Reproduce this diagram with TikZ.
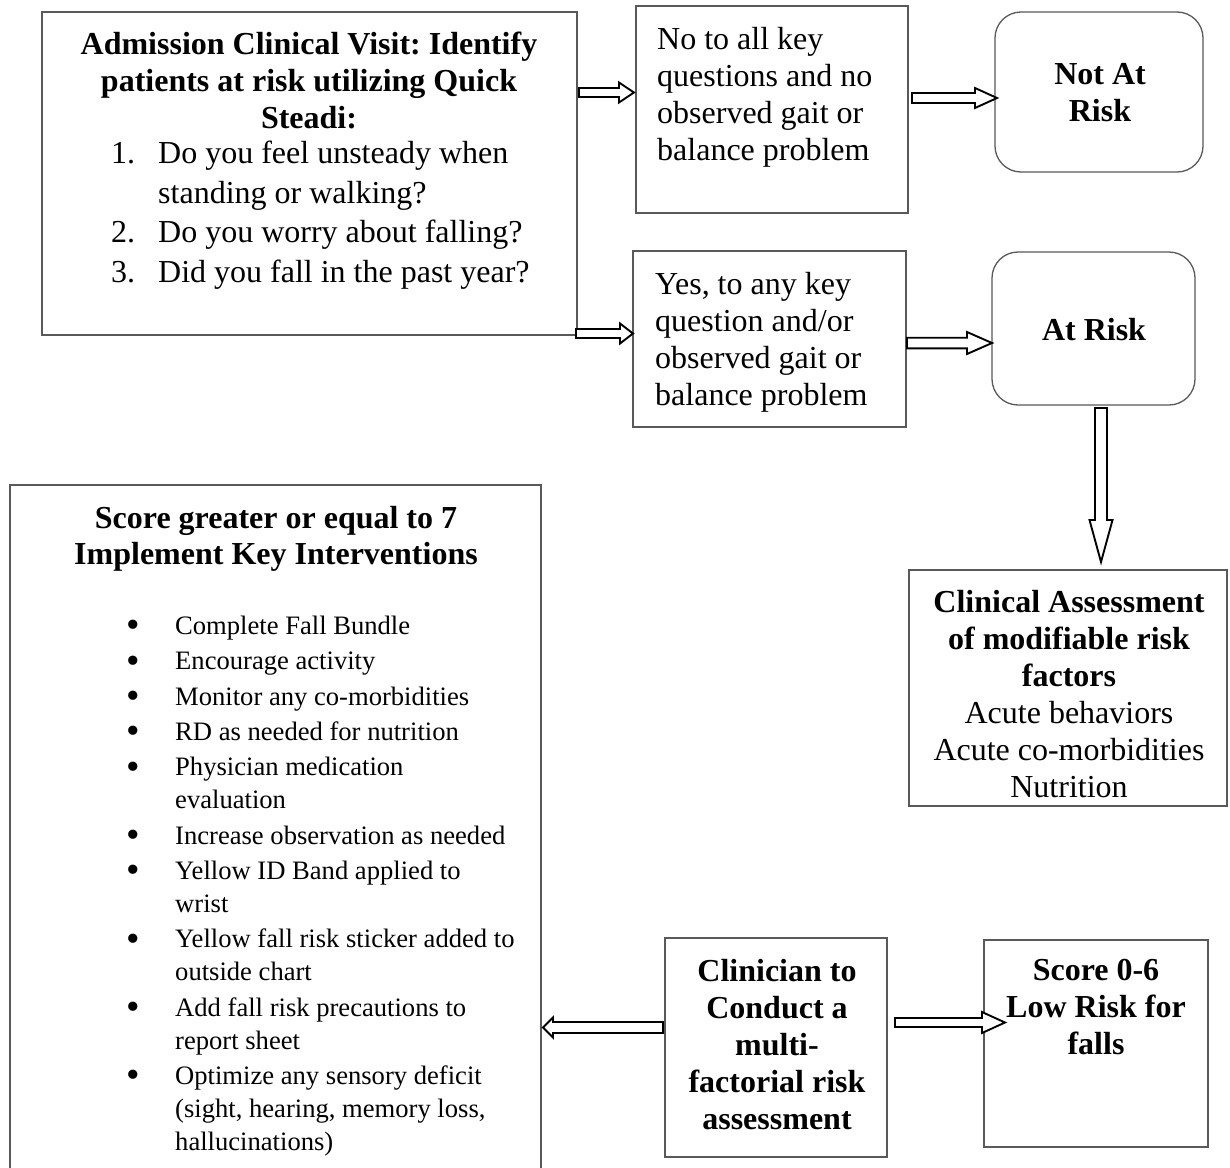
\documentclass[tikz,border=0pt]{standalone}
\usepackage{fontspec}
\setmainfont{Liberation Serif}
\frenchspacing
\usetikzlibrary{calc}
\tikzset{
  box/.style={draw=black!65, line width=1.3pt, inner sep=0pt},
  rbox/.style={box, rounded corners=26pt},
  txt/.style={inner sep=0pt, font=\fontsize{32}{37}\selectfont},
  btxt/.style={inner sep=0pt, font=\fontsize{32}{37}\selectfont\bfseries},
  smalltxt/.style={inner sep=0pt, font=\fontsize{26.6}{33}\selectfont},
  blockarr/.style={draw=black, line width=1.9pt, fill=white, line join=miter},
}
% #1 start, #2 end, #3 shaft half width, #4 head half width, #5 head length
\newcommand\blockarrow[5]{%
  \path ($(#2)!#5!(#1)$) coordinate (ba);
  \draw[blockarr] ($(#1)!#3!90:(#2)$) -- ($(ba)!#3!90:(#2)$) -- ($(ba)!#4!90:(#2)$)
    -- (#2) -- ($(ba)!#4!-90:(#2)$) -- ($(ba)!#3!-90:(#2)$) -- ($(#1)!#3!-90:(#2)$) -- cycle;}
\newcommand\bitem{\makebox[47pt][l]{\hspace*{-1.5pt}\raisebox{-3.3pt}{\scalebox{1.45}{\textbullet}}}}
\newcommand\bcont{\hspace*{47pt}}
\newcommand\nitem[1]{\makebox[47pt][l]{#1}}

\begin{document}
\begin{tikzpicture}[x=1pt,y=-1pt]
\useasboundingbox (0,0) rectangle (1230,1167);
\fill[white] (0,0) rectangle (1230,1167);

% Admission box
\node[box, minimum width=535pt, minimum height=323pt] (adm) at (309.5,173.5) {};
\node[btxt, align=center, anchor=north] (admT) at (309,32)
  {Admission Clinical Visit: Identify\\patients at risk utilizing Quick\\Steadi:};
\node[txt, align=left, anchor=north west, font=\fontsize{32}{39.5}\selectfont] (admL) at (111,141)
  {\nitem{1.}Do you feel unsteady when\\\bcont standing or walking?\\\nitem{2.}Do you worry about falling?\\\nitem{3.}Did you fall in the past year?};

% No box
\node[box, minimum width=272pt, minimum height=207pt] (no) at (772,109.5) {};
\node[txt, align=left, anchor=north west] (noT) at (657,27)
  {No to all key\\questions and no\\observed gait or\\balance problem};

% Not at risk
\node[rbox, minimum width=208pt, minimum height=160pt] (nar) at (1099,92) {};
\node[btxt, align=center] (narT) at (1100,92.5) {Not At\\Risk};

% Yes box
\node[box, minimum width=273pt, minimum height=176pt] (yes) at (769.5,339) {};
\node[txt, align=left, anchor=north west] (yesT) at (655,272)
  {Yes, to any key\\question and/or\\observed gait or\\balance problem};

% At risk
\node[rbox, minimum width=203pt, minimum height=153pt] (ar) at (1093.5,328.5) {};
\node[btxt] (arT) at (1094,329.6) {At Risk};

% Clinical assessment
\node[box, minimum width=318pt, minimum height=236pt] (ca) at (1068,688) {};
\node[txt, align=center, anchor=north] (caT) at (1069,590)
  {\bfseries Clinical Assessment\\\bfseries of modifiable risk\\\bfseries factors\\Acute behaviors\\Acute co-morbidities\\Nutrition};

% Interventions box
\node[box, minimum width=531pt, minimum height=690pt] (int) at (275.5,830) {};
\node[btxt, align=center, anchor=north, font=\fontsize{32}{36}\selectfont\bfseries] (intT) at (276,506)
  {Score greater or equal to 7\\Implement Key Interventions};
\node[smalltxt, align=left, anchor=north west] (intL) at (128,616)
  {\bitem Complete Fall Bundle\\[2.3pt]
   \bitem Encourage activity\\[2.3pt]
   \bitem Monitor any co-morbidities\\[2.3pt]
   \bitem RD as needed for nutrition\\[2.3pt]
   \bitem Physician medication\\
   \bcont evaluation\\[2.3pt]
   \bitem Increase observation as needed\\[2.3pt]
   \bitem Yellow ID Band applied to\\
   \bcont wrist\\[2.3pt]
   \bitem Yellow fall risk sticker added to\\
   \bcont outside chart\\[2.3pt]
   \bitem Add fall risk precautions to\\
   \bcont report sheet\\[2.3pt]
   \bitem Optimize any sensory deficit\\
   \bcont (sight, hearing, memory loss,\\
   \bcont hallucinations)};

% Clinician box
\node[box, minimum width=222pt, minimum height=219pt] (cl) at (776,1047.5) {};
\node[btxt, align=center, anchor=north] (clT) at (777,959)
  {Clinician to\\Conduct a\\multi-\\factorial risk\\assessment};

% Low risk box
\node[box, minimum width=224pt, minimum height=207pt] (low) at (1096,1043.5) {};
\node[btxt, align=center, anchor=north] (lowT) at (1096,959)
  {Score 0-6\\Low Risk for\\falls};

% arrow end points
\coordinate (a1s) at (579,92.5);   \coordinate (a1e) at (634,92.5);
\coordinate (a2s) at (912,98);     \coordinate (a2e) at (997,98);
\coordinate (a3s) at (576,333.5);  \coordinate (a3e) at (633,333.5);
\coordinate (a4s) at (907,343);    \coordinate (a4e) at (992,343);
\coordinate (a5s) at (1101,408);   \coordinate (a5e) at (1101,562);
\coordinate (a6s) at (663,1027.5); \coordinate (a6e) at (543,1027.5);
\coordinate (a7s) at (895,1022.5); \coordinate (a7e) at (1005,1022.5);

\blockarrow{a1s}{a1e}{4.5pt}{10pt}{15pt}
\blockarrow{a2s}{a2e}{5pt}{10pt}{22pt}
\blockarrow{a3s}{a3e}{4.5pt}{10pt}{13pt}
\blockarrow{a4s}{a4e}{5.3pt}{11pt}{25pt}
\blockarrow{a5s}{a5e}{6pt}{11.5pt}{42pt}
\blockarrow{a6s}{a6e}{5.5pt}{10pt}{10pt}
\blockarrow{a7s}{a7e}{4.5pt}{10.5pt}{23pt}
\end{tikzpicture}
\end{document}
